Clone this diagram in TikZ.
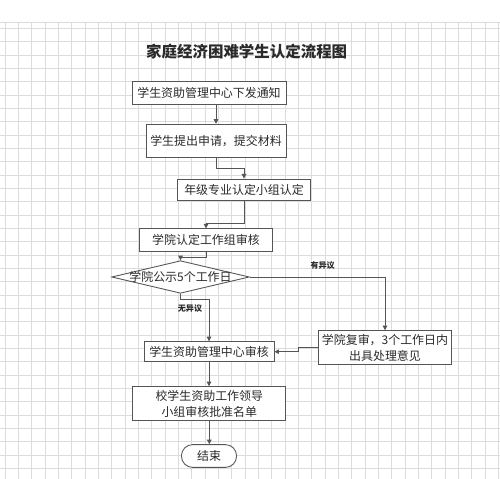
\documentclass[tikz,border=0pt]{standalone}
\usepackage{fontspec}
\setmainfont{Noto Sans CJK SC}
\usetikzlibrary{arrows.meta,shapes.geometric}
\definecolor{gridgray}{HTML}{DCDCDC}
\definecolor{linegray}{HTML}{555555}
\definecolor{textgray}{HTML}{2A2A2A}
\begin{document}
\begin{tikzpicture}[x=0.02cm,y=-0.02cm,line width=0.5pt,
    box/.style={draw=linegray,rectangle,fill=white,text=textgray,inner sep=1pt,align=center,
      font=\fontsize{6.8pt}{8.9pt}\selectfont},
    decide/.style={draw=linegray,diamond,fill=white,text=textgray,inner sep=0pt,
      font=\fontsize{6.8pt}{8.9pt}\selectfont},
    stopbox/.style={draw=linegray,rectangle,rounded corners=0.22cm,fill=white,text=textgray,
      font=\fontsize{6.8pt}{8.9pt}\selectfont},
    lbl/.style={text=textgray,inner sep=0pt,font=\fontsize{4.6pt}{5pt}\selectfont\bfseries},
    arr/.style={draw=linegray,-{Triangle[length=2.6pt,width=2.6pt]}}]
  \useasboundingbox (0,0) rectangle (500,479);
  \fill[white] (0,0) rectangle (500,479);
  % grid
  \foreach \k in {0,...,37} {
    \draw[gridgray,line width=0.4pt] (5+13.333*\k,22) -- (5+13.333*\k,479);
  }
  \foreach \k in {0,...,34} {
    \draw[gridgray,line width=0.4pt] (0,28.3+13.333*\k) -- (500,28.3+13.333*\k);
  }
  \draw[gridgray,line width=0.4pt] (0,22) -- (500,22);

  \node[text=textgray,font=\fontsize{8.8pt}{10pt}\selectfont\bfseries] (title) at (246.7,51.7) {家庭经济困难学生认定流程图};

  \node[box,minimum width=3.08cm,minimum height=0.46cm] (notice) at (209,92.5) {学生资助管理中心下发通知};
  \node[box,minimum width=2.8cm,minimum height=0.66cm] (apply) at (216,140.7) {学生提出申请，提交材料};
  \node[box,minimum width=2.66cm,minimum height=0.42cm] (grade) at (244,189.5) {年级专业认定小组认定};
  \node[box,minimum width=2.66cm,minimum height=0.46cm] (college) at (206,240.3) {学院认定工作组审核};
  \node[decide,minimum width=2.75cm,minimum height=0.652cm] (publish) at (180.5,277) {\makebox[0pt]{学院公示5个工作日}};
  \node[box,minimum width=2.6cm,minimum height=0.4cm] (center) at (209,351.7) {学生资助管理中心审核};
  \node[box,minimum width=2.66cm,minimum height=0.68cm] (recheck) at (385,347.7) {学院复审，3个工作日内\\出具处理意见};
  \node[box,minimum width=3.06cm,minimum height=0.68cm] (leader) at (209.3,403.7) {校学生资助工作领导\\小组审核批准名单};
  \node[stopbox,minimum width=1.1cm,minimum height=0.44cm] (finish) at (209,456) {结束};

  \node[lbl] (noobj) at (190,308.3) {无异议};
  \node[lbl] (hasobj) at (322.7,265) {有异议};

  \draw[arr] (notice.south -| apply.north) -- (apply.north);
  \draw[arr] (apply.south) -- ++(0,10.4) -| (grade.north);
  \draw[arr] (grade.south) -- ++(0,22.7) -| (college.north);
  \draw[arr] (college.south) -- ++(0,5) -| (publish.north);
  \draw[arr] (publish.south) -- ++(0,6) -| (center.north);
  \draw[arr] (publish.east) -| (recheck.north);
  \draw[arr] (recheck.west) -- ++(-20,0) |- (center.east);
  \draw[arr] (center.south) -- (center.south |- leader.north);
  \draw[arr] (leader.south) -- (leader.south |- finish.north);
\end{tikzpicture}
\end{document}
